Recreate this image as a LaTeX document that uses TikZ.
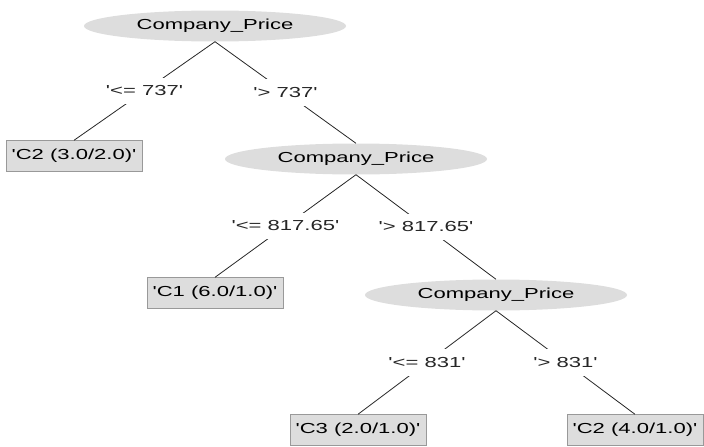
\documentclass[tikz,border=0pt]{standalone}
\usepackage{fontspec}
\newfontfamily\wekafont[FakeStretch=1.52,Ligatures=TeXOff]{Liberation Sans}
\usetikzlibrary{shapes.geometric}

\begin{document}
\begin{tikzpicture}[x=1pt,y=-1pt]
    %colores
    \colorlet{nodo}{gray!27}
    \colorlet{borde}{black!40}
    \tikzset{
        letra/.style={font=\wekafont\fontsize{14.5}{17}\selectfont},
        atributo/.style={ellipse,fill=nodo,letra,minimum width=262pt,minimum height=31pt,inner sep=0pt},
        hoja/.style={rectangle,fill=nodo,draw=borde,letra,minimum height=31pt,inner xsep=5.5pt},
        rama/.style={fill=white,letra,inner xsep=2pt,inner ysep=8pt},
        arista/.style={black!85,line width=0.8pt}
    }
    \useasboundingbox (0,0) rectangle (704,447);

    % Nodos del arbol
    \node[atributo] (raiz) at (215,26) {Company\_Price};
    \node[hoja] (hojaA) at (74,156) {'C2 (3.0/2.0)'};
    \node[atributo] (precioB) at (356,159) {Company\_Price};
    \node[hoja] (hojaB) at (215,293) {'C1 (6.0/1.0)'};
    \node[atributo] (precioC) at (496,295) {Company\_Price};
    \node[hoja] (hojaC) at (358,430) {'C3 (2.0/1.0)'};
    \node[hoja] (hojaD) at (635,430) {'C2 (4.0/1.0)'};

    % Ramas con su condicion
    \draw[arista] (raiz.south) -- node[rama] {'<= 737'} (hojaA.north);
    \draw[arista] (raiz.south) -- node[rama] {'> 737'} (precioB.north);
    \draw[arista] (precioB.south) -- node[rama] {'<= 817.65'} (hojaB.north);
    \draw[arista] (precioB.south) -- node[rama] {'> 817.65'} (precioC.north);
    \draw[arista] (precioC.south) -- node[rama] {'<= 831'} (hojaC.north);
    \draw[arista] (precioC.south) -- node[rama] {'> 831'} (hojaD.north);
\end{tikzpicture}
\end{document}
